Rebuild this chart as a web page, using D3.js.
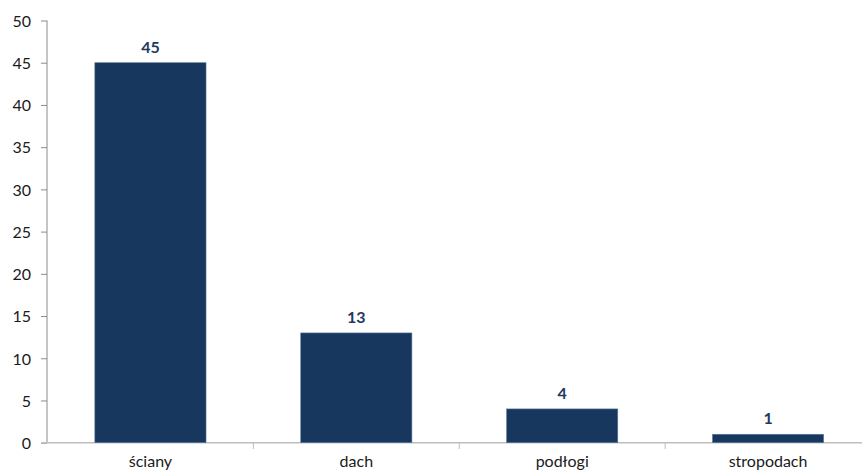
<!DOCTYPE html>
<html><head><meta charset="utf-8">
<script src="https://cdn.jsdelivr.net/npm/d3@7"></script>
<style>body{margin:0;background:#fff}svg{display:block}</style>
</head><body><svg id="c" width="862" height="470"></svg>
<script>
const categories = ["ściany","dach","podłogi","stropodach"];
const values = [45,13,4,1];
const yTicks = [0,5,10,15,20,25,30,35,40,45,50];

const svg = d3.select("#c");
const font = "Lato, 'Open Sans', sans-serif";
const x = d3.scaleBand().domain(categories).range([47.5, 871]).paddingInner(0.46).paddingOuter(0.23);
const y = d3.scaleLinear().domain([0,50]).range([442.7, 20.5]);

// y axis
const ya = svg.append("g").attr("transform","translate(47,0)")
  .call(d3.axisLeft(y).tickValues(yTicks).tickSize(6).tickPadding(10));
ya.select(".domain").attr("stroke","#8c8c8c").attr("d","M0,20.5V443");
ya.selectAll(".tick line").attr("stroke","#8c8c8c");
ya.selectAll("text").attr("font-family",font).attr("font-size",16).attr("fill","#1a1a1a").attr("dy","0.36em");

// x axis
const xa = svg.append("g").attr("transform","translate(0,442.7)")
  .call(d3.axisBottom(x).tickSize(0).tickPadding(13));
xa.select(".domain").attr("stroke","#bfbfbf").attr("stroke-width",1.5).attr("d","M42,0H862");
xa.selectAll("text").attr("font-family",font).attr("font-size",16).attr("fill","#1a1a1a");
const gap = (x.step()-x.bandwidth())/2;
svg.append("g").selectAll("line").data(categories.slice(1)).join("line")
  .attr("x1",d=>x(d)-gap).attr("x2",d=>x(d)-gap)
  .attr("y1",442.7).attr("y2",449)
  .attr("stroke","#bfbfbf");

// bars
svg.append("g").selectAll("rect").data(values).join("rect")
  .attr("x",(d,i)=>x(categories[i]))
  .attr("width",x.bandwidth())
  .attr("y",d=>y(d))
  .attr("height",d=>y(0)-y(d))
  .attr("fill","#17375e")
  .attr("stroke","#5a7aa0").attr("stroke-width",0.6);

// value labels
svg.append("g").selectAll("text").data(values).join("text")
  .attr("x",(d,i)=>x(categories[i])+x.bandwidth()/2)
  .attr("y",d=>y(d)-10)
  .attr("text-anchor","middle")
  .attr("font-family",font).attr("font-size",16).attr("font-weight","bold")
  .attr("fill","#1f3a60")
  .text(d=>d);
</script></body></html>
